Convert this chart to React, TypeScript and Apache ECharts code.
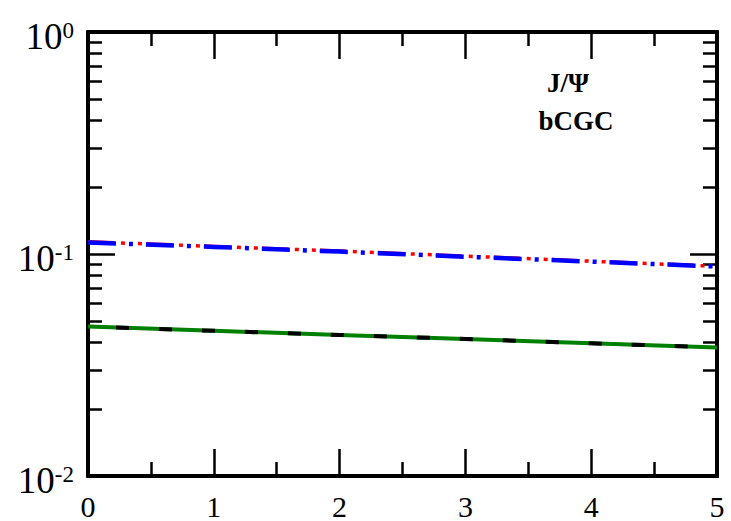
import React, { useEffect, useRef } from "react";
import * as echarts from "echarts";

const xValues = [0, 1, 2, 3, 4, 5];
const redValues = [0.1135, 0.1082, 0.1031, 0.0978, 0.0928, 0.0880];
const blueValues = [0.1127, 0.1076, 0.1025, 0.0972, 0.0924, 0.0878];
const greenValues = [0.0471, 0.0451, 0.0432, 0.0414, 0.0396, 0.0379];
const blackValues = [0.0471, 0.0451, 0.0432, 0.0414, 0.0396, 0.0379];
const yMajorTicks = [0.01, 0.1, 1];
const yMinorTicks = [0.02, 0.03, 0.04, 0.05, 0.06, 0.07, 0.08, 0.09, 0.2, 0.3, 0.4, 0.5, 0.6, 0.7, 0.8, 0.9];
const xMajorTicks = [0, 1, 2, 3, 4, 5];
const xMinorTicks = [0.5, 1.5, 2.5, 3.5, 4.5];
const annotations = ["J/\u03A8", "bCGC"];

const SERIF = "Liberation Serif";

export default function App() {
  const ref = useRef<HTMLDivElement>(null);
  useEffect(() => {
    if (!ref.current) return;
    const chart = echarts.init(ref.current, undefined, { renderer: "svg" });
    const pair = (ys: number[]) => xValues.map((x, i) => [x, ys[i]]);
    const axisLine = { show: true, onZero: false, lineStyle: { color: "#000", width: 4 } };
    const yAxisBase = (position: string, ticks: number[], len: number, label: boolean) => ({
      type: "log",
      logBase: 10,
      min: 0.01,
      max: 1,
      position,
      offset: 0,
      axisLine,
      splitLine: { show: false },
      minorTick: { show: false },
      axisTick: { show: true, inside: true, length: len, customValues: ticks, lineStyle: { color: "#000", width: 2.5 } },
      axisLabel: label
        ? {
            show: true,
            customValues: yMajorTicks,
            margin: 14,
            fontFamily: SERIF,
            formatter: (v: number) => `{b|10}{s|${Math.round(Math.log10(v))}}`,
            rich: {
              b: { fontFamily: SERIF, fontSize: 37, color: "#000", lineHeight: 46, verticalAlign: "bottom" },
              s: { fontFamily: SERIF, fontSize: 23, color: "#000", lineHeight: 23, verticalAlign: "top", padding: [10, 0, 0, 0] },
            },
          }
        : { show: false },
    });
    const xAxisBase = (position: string, ticks: number[], len: number, label: boolean) => ({
      type: "value",
      min: 0,
      max: 5,
      position,
      offset: 0,
      axisLine,
      splitLine: { show: false },
      minorTick: { show: false },
      axisTick: { show: true, inside: true, length: len, customValues: ticks, lineStyle: { color: "#000", width: 2.5 } },
      axisLabel: label
        ? { show: true, customValues: xMajorTicks, margin: 15, fontFamily: SERIF, fontSize: 30, color: "#000" }
        : { show: false },
    });
    chart.setOption({
      animation: false,
      backgroundColor: "#fff",
      textStyle: { fontFamily: SERIF },
      grid: { left: 88, right: 14, top: 32, bottom: 45, containLabel: false },
      xAxis: [
        xAxisBase("bottom", xMajorTicks, 27, true),
        xAxisBase("bottom", xMinorTicks, 14, false),
        xAxisBase("top", xMajorTicks, 27, false),
        xAxisBase("top", xMinorTicks, 14, false),
      ],
      yAxis: [
        yAxisBase("left", yMajorTicks, 27, true),
        yAxisBase("left", yMinorTicks, 14, false),
        yAxisBase("right", yMajorTicks, 27, false),
        yAxisBase("right", yMinorTicks, 14, false),
      ],
      series: [
        {
          type: "line",
          data: pair(redValues),
          showSymbol: false,
          lineStyle: { color: "#ff0000", width: 3.5, type: [26, 7, 4, 13, 4, 4] },
          z: 2,
        },
        {
          type: "line",
          data: pair(blueValues),
          showSymbol: false,
          lineStyle: { color: "#0000ff", width: 4.5, type: [28, 13, 4, 13] },
          z: 3,
        },
        {
          type: "line",
          data: pair(greenValues),
          showSymbol: false,
          lineStyle: { color: "#008000", width: 4 },
          z: 2,
        },
        {
          type: "line",
          data: pair(blackValues),
          showSymbol: false,
          lineStyle: { color: "#000", width: 4, type: [13, 30], dashOffset: -28 },
          z: 3,
        },
      ],
      graphic: [
        {
          type: "text",
          x: 568,
          y: 83,
          style: { text: annotations[0], font: "bold 27px Liberation Serif", fill: "#000", align: "center", verticalAlign: "middle" },
        },
        {
          type: "text",
          x: 576,
          y: 121,
          style: { text: annotations[1], font: "bold 27px Liberation Serif", fill: "#000", align: "center", verticalAlign: "middle" },
        },
      ],
    });
    return () => chart.dispose();
  }, []);
  return <div ref={ref} style={{ width: 731, height: 521, position: "fixed", left: 0, top: 0 }} />;
}
